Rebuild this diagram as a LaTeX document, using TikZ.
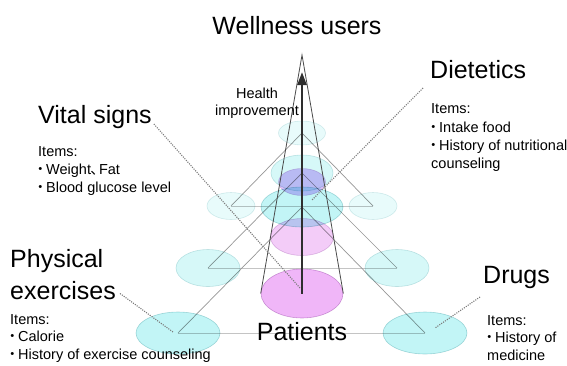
\documentclass[tikz,border=0pt]{standalone}
\usepackage{fontspec}
\setmainfont{Liberation Sans}
\newfontfamily\cjk{Noto Sans CJK JP}
\usetikzlibrary{shapes.geometric,arrows.meta,backgrounds}

\definecolor{cyanA}{HTML}{C2F5F6}
\definecolor{cyanB}{HTML}{D6F8F8}
\definecolor{cyanC}{HTML}{E8FBFB}
\definecolor{pinkA}{HTML}{F0B6F8}
\definecolor{pinkB}{HTML}{F3CCF8}
\definecolor{pinkC}{HTML}{DCC0FA}
\definecolor{edgeCyan}{HTML}{B4DADC}
\definecolor{edgePink}{HTML}{D2AED8}
\definecolor{sideGrey}{HTML}{969696}
\definecolor{floorGrey}{HTML}{C4C4C4}
\definecolor{coneGrey}{HTML}{4A4A4A}
\definecolor{shaftGrey}{HTML}{2E2E2E}
\definecolor{dotGrey}{HTML}{7C7C7C}

% narrow Japanese bullet and comma
\newcommand\jdot{{\cjk\kern-0.35em ・\kern-0.1em}}
\newcommand\jcomma{{\cjk\kern-0.05em 、\kern-0.4em}}

\begin{document}
\begin{tikzpicture}[x=1pt,y=-1pt,
  blob/.style={ellipse, inner sep=0pt, line width=0.6pt, blend mode=multiply},
  cyA/.style={blob, fill=cyanA, draw=edgeCyan},
  cyB/.style={blob, fill=cyanB, draw=edgeCyan!70},
  cyC/.style={blob, fill=cyanC, draw=edgeCyan!50},
  pkA/.style={blob, fill=pinkA, draw=edgePink},
  pkB/.style={blob, fill=pinkB, draw=edgePink!70},
  pkC/.style={blob, fill=pinkC, draw=edgePink!60},
  bigtext/.style={font=\fontsize{25}{32}\selectfont, inner sep=0pt, anchor=base west, align=left},
  smalltext/.style={font=\fontsize{14.5}{18.2}\selectfont, inner sep=0pt, anchor=base west, align=left},
  lowtext/.style={font=\fontsize{14.5}{17.5}\selectfont, inner sep=0pt, anchor=base west, align=left},
  sideline/.style={draw=sideGrey, line width=0.7pt},
  floorline/.style={draw=floorGrey, line width=0.8pt},
  pointer/.style={draw=dotGrey, line width=1.1pt, dash pattern=on 1.1pt off 1.2pt},
]
\useasboundingbox (0,0) rectangle (567,365);

% three stacked layers: left, right and back ellipse each
\node[cyA, minimum width=84pt, minimum height=42pt] (L1l) at (178,333) {};
\node[cyA, minimum width=84pt, minimum height=42pt] (L1r) at (425,333) {};
\node[cyA, minimum width=82pt, minimum height=40pt] (L1b) at (302,207) {};
\node[cyB, minimum width=64pt, minimum height=37pt] (L2l) at (208,268) {};
\node[cyB, minimum width=64pt, minimum height=37pt] (L2r) at (397,268) {};
\node[cyB, minimum width=62pt, minimum height=36pt] (L2b) at (302,173) {};
\node[cyC, minimum width=48pt, minimum height=27pt] (L3l) at (231,206) {};
\node[cyC, minimum width=48pt, minimum height=27pt] (L3r) at (373,206) {};
\node[cyC, minimum width=47pt, minimum height=24pt] (L3b) at (302,133) {};

% patient discs along the cone
\node[pkA, minimum width=82pt, minimum height=49pt] (P1) at (302,293.5) {};
\node[pkB, minimum width=63pt, minimum height=37pt] (P2) at (302,237) {};
\node[pkC, minimum width=47pt, minimum height=27pt] (P3) at (302,182) {};

% triangle edges behind the ellipses
\begin{pgfonlayer}{background}
  \draw[floorline] (L1l.center) -- (L1r.center);
  \draw[floorline] (L2l.center) -- (L2r.center);
  \draw[floorline] (L3l.center) -- (L3r.center);
  \draw[sideline] (L1l.center) -- (L1b.center) -- (L1r.center);
  \draw[sideline] (L2l.center) -- (L2b.center) -- (L2r.center);
  \draw[sideline] (L3l.center) -- (L3b.center) -- (L3r.center);
\end{pgfonlayer}

% cone and improvement arrow
\coordinate (apex) at (302,55);
\coordinate (head) at (302,72);
\draw[coneGrey, line width=0.8pt] (P1.west) -- (apex) -- (P1.east);
\draw[shaftGrey, line width=2.6pt, -{Triangle[width=9pt,length=13pt]}] (P1.center) -- (head);

% texts (multi-line nodes are placed by the baseline of their last line)
\node[bigtext, anchor=base] (wellness) at (297,34) {Wellness users};
\node[font=\fontsize{14.5}{17}\selectfont, inner sep=0pt, align=center, anchor=base] (health) at (257,115) {Health\\improvement};
\node[bigtext, anchor=base] (patients) at (302,340) {Patients};

\node[bigtext] (vital) at (38,123) {Vital signs};
\node[smalltext] (vitalItems) at (38,192.5) {Items:\\\jdot Weight\jcomma Fat\\\jdot Blood glucose level};

\node[bigtext] (diet) at (430,78) {Dietetics};
\node[smalltext] (dietItems) at (431,168.5) {Items:\\\jdot Intake food\\\jdot History of nutritional\\counseling};

\node[bigtext] (phys) at (10,299) {Physical\\exercises};
\node[lowtext] (physItems) at (10,359) {Items:\\\jdot Calorie\\\jdot History of exercise counseling};

\node[bigtext] (drugs) at (483,283) {Drugs};
\node[lowtext] (drugItems) at (487,360) {Items:\\\jdot History of\\medicine};

% dotted pointers from the labels into the figure
\coordinate (vsEnd) at (300,288);
\coordinate (dtEnd) at (312,200);
\coordinate (peEnd) at (173,332);
\coordinate (drEnd) at (435,328);
\draw[pointer] ([shift={(2pt,-1pt)}]vital.base east) -- (vsEnd);
\draw[pointer] ([shift={(-7pt,-10pt)}]diet.base west) -- (dtEnd);
\draw[pointer] ([shift={(4pt,6pt)}]phys.south east) -- (peEnd);
\draw[pointer] ([shift={(-3pt,-14pt)}]drugs.base west) -- (drEnd);
\end{tikzpicture}
\end{document}
